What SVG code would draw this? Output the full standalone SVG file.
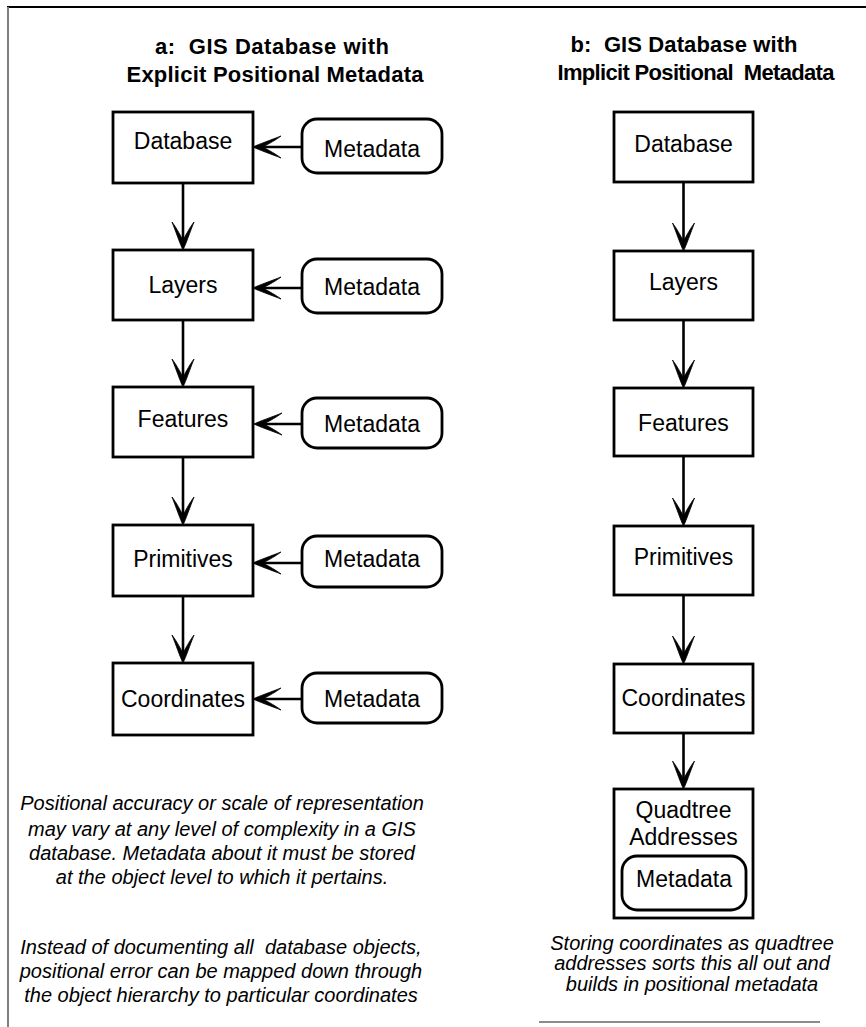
<svg xmlns="http://www.w3.org/2000/svg" width="866" height="1027" viewBox="0 0 866 1027">
<style>
.box{fill:#fff;stroke:#000;stroke-width:2.8}
.rbox{fill:#fff;stroke:#000;stroke-width:2.8}
.lbl{font-family:"Liberation Sans",Arial,sans-serif;font-size:23px;fill:#000;text-anchor:middle}
.ttl{font-family:"Liberation Sans",Arial,sans-serif;font-size:22px;font-weight:bold;fill:#000;text-anchor:middle;white-space:pre}
.note{font-family:"Liberation Sans",Arial,sans-serif;font-size:20px;font-style:italic;fill:#000;text-anchor:middle;white-space:pre}
.conn{stroke:#000;stroke-width:2.6;fill:none;marker-end:url(#ah)}
</style>
<defs>
<marker id="ah" markerUnits="userSpaceOnUse" viewBox="-30 -12 32 24" markerWidth="32" markerHeight="24" refX="-6" refY="0" orient="auto">
<path d="M0,0 C-6,-3 -18,-7 -28,-11 C-20,-5 -13,-2 -10,0 C-13,2 -20,5 -28,11 C-18,7 -6,3 0,0 Z" fill="#000" stroke="#000" stroke-width="0.8" stroke-linejoin="round"/>
</marker>
</defs>
<rect x="0" y="0" width="866" height="1027" fill="#fff"/>
<line x1="7" y1="7" x2="866" y2="7" stroke="#000" stroke-width="2"/>
<line x1="8" y1="7" x2="8" y2="1027" stroke="#808080" stroke-width="2"/>

<g id="title-a">
<text class="ttl" xml:space="preserve" x="272" y="54" textLength="234" lengthAdjust="spacing">a:  GIS Database with</text>
<text class="ttl" x="275" y="82" textLength="297" lengthAdjust="spacing">Explicit Positional Metadata</text>
</g>
<g id="title-b">
<text class="ttl" xml:space="preserve" x="684" y="52" textLength="227" lengthAdjust="spacing">b:  GIS Database with</text>
<text class="ttl" xml:space="preserve" x="696" y="80" textLength="277" lengthAdjust="spacing">Implicit Positional  Metadata</text>
</g>

<g id="connectors">
<line class="conn" x1="183" y1="183" x2="183" y2="244"/>
<line class="conn" x1="183" y1="320" x2="183" y2="381"/>
<line class="conn" x1="183" y1="457" x2="183" y2="519"/>
<line class="conn" x1="183" y1="596" x2="183" y2="657"/>
<line class="conn" x1="302" y1="147" x2="259" y2="147"/>
<line class="conn" x1="302" y1="288" x2="259" y2="288"/>
<line class="conn" x1="302" y1="424" x2="260" y2="424"/>
<line class="conn" x1="302" y1="563" x2="259" y2="563"/>
<line class="conn" x1="302" y1="699" x2="259" y2="699"/>
<line class="conn" x1="683.5" y1="182" x2="683.5" y2="245"/>
<line class="conn" x1="683.5" y1="320" x2="683.5" y2="382"/>
<line class="conn" x1="683.5" y1="456" x2="683.5" y2="520"/>
<line class="conn" x1="683.5" y1="595" x2="683.5" y2="658"/>
<line class="conn" x1="683.5" y1="733" x2="683.5" y2="783"/>
</g>

<g id="a-database"><rect class="box" x="113" y="112" width="140" height="71"/><text class="lbl" x="183" y="149">Database</text></g>
<g id="a-layers"><rect class="box" x="113" y="250" width="140" height="70"/><text class="lbl" x="183" y="293">Layers</text></g>
<g id="a-features"><rect class="box" x="113" y="387" width="140" height="70"/><text class="lbl" x="183" y="427">Features</text></g>
<g id="a-primitives"><rect class="box" x="113" y="525" width="140" height="71"/><text class="lbl" x="183" y="567">Primitives</text></g>
<g id="a-coordinates"><rect class="box" x="113" y="663" width="140" height="72"/><text class="lbl" x="183" y="707">Coordinates</text></g>

<g id="a-meta-1"><rect class="rbox" x="302" y="119" width="140" height="54" rx="15"/><text class="lbl" x="372" y="157">Metadata</text></g>
<g id="a-meta-2"><rect class="rbox" x="302" y="259" width="140" height="54" rx="15"/><text class="lbl" x="372" y="295">Metadata</text></g>
<g id="a-meta-3"><rect class="rbox" x="302" y="398" width="140" height="50" rx="15"/><text class="lbl" x="372" y="432">Metadata</text></g>
<g id="a-meta-4"><rect class="rbox" x="302" y="536" width="140" height="51" rx="15"/><text class="lbl" x="372" y="567">Metadata</text></g>
<g id="a-meta-5"><rect class="rbox" x="302" y="673" width="140" height="50" rx="15"/><text class="lbl" x="372" y="707">Metadata</text></g>

<g id="b-database"><rect class="box" x="614" y="112" width="139" height="70"/><text class="lbl" x="683.5" y="152">Database</text></g>
<g id="b-layers"><rect class="box" x="614" y="251" width="139" height="69"/><text class="lbl" x="683.5" y="290">Layers</text></g>
<g id="b-features"><rect class="box" x="614" y="388" width="139" height="68"/><text class="lbl" x="683.5" y="431">Features</text></g>
<g id="b-primitives"><rect class="box" x="614" y="526" width="139" height="69"/><text class="lbl" x="683.5" y="565">Primitives</text></g>
<g id="b-coordinates"><rect class="box" x="614" y="664" width="139" height="69"/><text class="lbl" x="683.5" y="706">Coordinates</text></g>
<g id="b-quadtree">
<rect class="box" x="614" y="789" width="139" height="129"/>
<text class="lbl" x="683.5" y="818">Quadtree</text>
<text class="lbl" x="683.5" y="845">Addresses</text>
<rect class="rbox" x="622" y="856" width="124" height="54" rx="15"/>
<text class="lbl" x="684" y="887">Metadata</text>
</g>

<g id="note-a1">
<text class="note" x="222" y="810">Positional accuracy or scale of representation</text>
<text class="note" x="222" y="836">may vary at any level of complexity in a GIS</text>
<text class="note" x="222" y="860">database. Metadata about it must be stored</text>
<text class="note" x="222" y="884">at the object level to which it pertains.</text>
</g>
<g id="note-a2">
<text class="note" xml:space="preserve" x="221" y="954">Instead of documenting all  database objects,</text>
<text class="note" x="221" y="978">positional error can be mapped down through</text>
<text class="note" x="221" y="1002">the object hierarchy to particular coordinates</text>
</g>
<g id="note-b">
<text class="note" x="692" y="950">Storing coordinates as quadtree</text>
<text class="note" x="692" y="970">addresses sorts this all out and</text>
<text class="note" x="692" y="991">builds in positional metadata</text>
<line x1="539" y1="1022" x2="820" y2="1022" stroke="#666" stroke-width="1.5"/>
</g>
</svg>
